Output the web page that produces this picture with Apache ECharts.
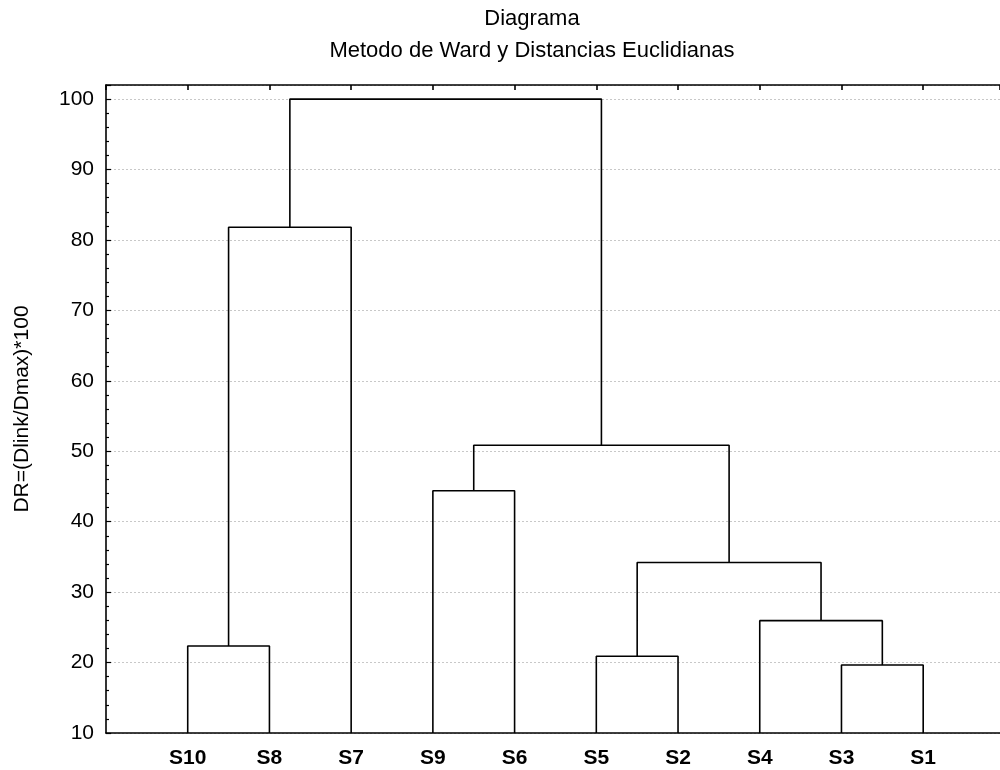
<!DOCTYPE html>
<html>
<head>
<meta charset="utf-8">
<script src="https://cdn.jsdelivr.net/npm/echarts@6/dist/echarts.min.js"></script>
<style>html,body{margin:0;padding:0;background:#fff}#c{width:1000px;height:770px}</style>
</head>
<body>
<div id="c"></div>
<script>
// Leaf order along the x axis
const leaves = ['S10', 'S8', 'S7', 'S9', 'S6', 'S5', 'S2', 'S4', 'S3', 'S1'];
// Merge steps: [left child, right child, linkage height]; numbers refer to earlier merges
const mergeLeft  = ['S3', 'S5', 'S10', 'S4', 1, 'S9', 5, 2, 7];
const mergeRight = ['S1', 'S2', 'S8', 0, 3, 'S6', 4, 'S7', 6];
const mergeHeight = [19.66, 20.9, 22.36, 25.95, 34.2, 44.4, 50.85, 81.8, 100];
const yTicks = [10, 20, 30, 40, 50, 60, 70, 80, 90, 100];
const baseLevel = 10;

const FONT = "'Liberation Sans', Arial, sans-serif";
const nodes = [];
function nodeInfo(ref) {
  if (typeof ref === 'string') return { x: leaves.indexOf(ref) + 1, h: baseLevel };
  return nodes[ref];
}
const series = [];
for (let i = 0; i < mergeHeight.length; i++) {
  const a = nodeInfo(mergeLeft[i]);
  const b = nodeInfo(mergeRight[i]);
  const h = mergeHeight[i];
  nodes.push({ x: (a.x + b.x) / 2, h: h });
  series.push({
    type: 'line',
    data: [[a.x, a.h], [a.x, h], [b.x, h], [b.x, b.h]],
    symbol: 'none',
    silent: true,
    lineStyle: { color: '#000', width: 1.6 },
    xAxisIndex: 0, yAxisIndex: 0
  });
}

const chart = echarts.init(document.getElementById('c'), null, { renderer: 'canvas' });
const xMax = 10.94;
chart.setOption({
  animation: false,
  backgroundColor: '#fff',
  title: [
    { text: 'Diagrama', left: 527, top: 3, textAlign: 'center',
      textStyle: { fontFamily: FONT, fontSize: 22, fontWeight: 'normal', color: '#000' } },
    { text: 'Metodo de Ward y Distancias Euclidianas', left: 527, top: 35, textAlign: 'center',
      textStyle: { fontFamily: FONT, fontSize: 22, fontWeight: 'normal', color: '#000' } }
  ],
  grid: { left: 106, right: 0, top: 85, bottom: 37, containLabel: false },
  xAxis: [
    {
      type: 'value', position: 'bottom', min: 0, max: xMax, interval: 1,
      axisLine: { show: true, onZero: false, lineStyle: { color: '#000', width: 1.6 } },
      axisTick: { show: false },
      splitLine: { show: false },
      axisLabel: {
        margin: 15, color: '#000', fontFamily: FONT, fontSize: 21, fontWeight: 'bold',
        showMaxLabel: false, showMinLabel: false,
        formatter: function (v) {
          const r = Math.round(v);
          return Math.abs(r - v) < 1e-6 && leaves[r - 1] ? leaves[r - 1] : '';
        }
      }
    },
    {
      type: 'value', position: 'top', min: 0, max: xMax, interval: 1,
      axisLine: { show: true, onZero: false, lineStyle: { color: '#000', width: 1.6 } },
      axisTick: { show: true, inside: true, length: 5, lineStyle: { color: '#000', width: 1.6 } },
      axisLabel: { show: false },
      splitLine: { show: false }
    }
  ],
  yAxis: {
    type: 'value', min: 10, max: 102, interval: 10,
    name: 'DR=(Dlink/Dmax)*100', nameLocation: 'middle', nameGap: 73,
    nameTextStyle: { fontFamily: FONT, fontSize: 21, color: '#000' },
    axisLine: { show: true, lineStyle: { color: '#000', width: 1.6 } },
    axisTick: { show: true, inside: true, length: 5, lineStyle: { color: '#000', width: 1.2 } },
    minorTick: { show: true, splitNumber: 5, length: 3, lineStyle: { color: '#000', width: 1.2 } },
    splitLine: { show: true, lineStyle: { color: '#c8c8c8', type: [2, 2], width: 1 } },
    axisLabel: {
      margin: 12, color: '#000', fontFamily: FONT, fontSize: 21, showMaxLabel: false,
      formatter: function (v) { return yTicks.indexOf(v) >= 0 ? String(v) : ''; }
    }
  },
  series: series
});
</script>
</body>
</html>
